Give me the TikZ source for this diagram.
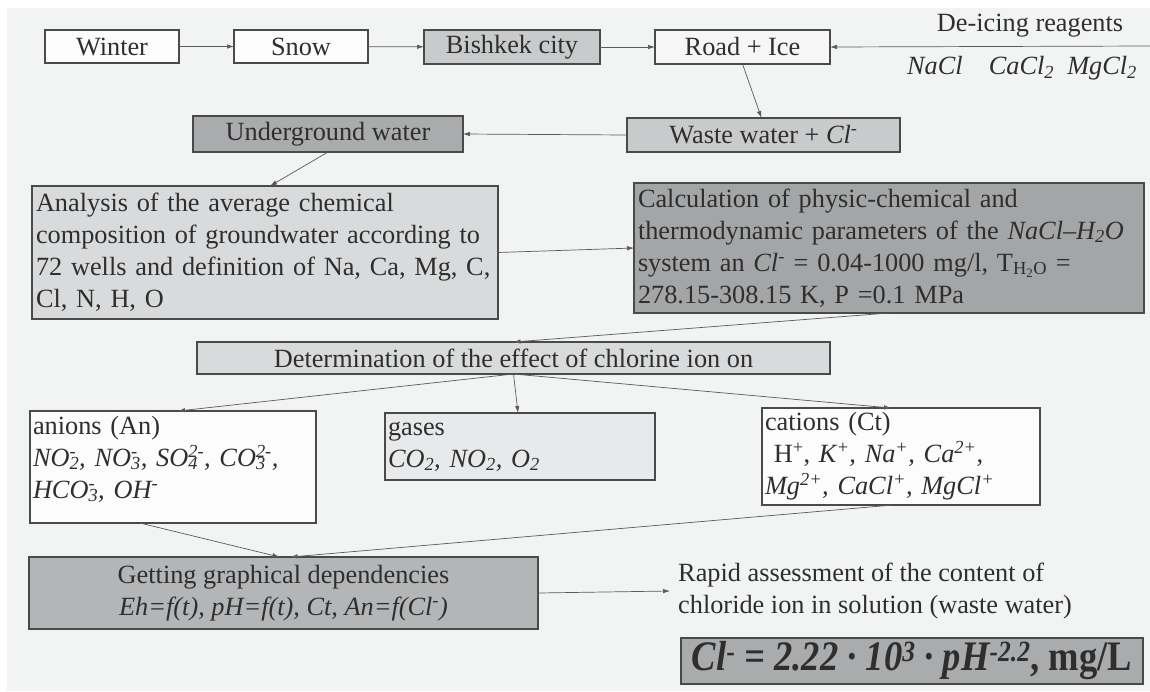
\documentclass[tikz,border=0pt]{standalone}
\usepackage{fontspec}
\setmainfont{Liberation Serif}
\usetikzlibrary{arrows.meta}
\definecolor{bgC}{HTML}{F2F3F3}
\definecolor{txtC}{HTML}{2E2E2E}
\definecolor{lineC}{HTML}{5A5A5A}
\definecolor{edgeC}{HTML}{4A4A4A}
\definecolor{whiteBox}{HTML}{FCFCFC}
\definecolor{roadC}{HTML}{F6F6F6}
\definecolor{midGray}{HTML}{C9CACB}
\definecolor{lightGray}{HTML}{D9DADB}
\definecolor{paleGray}{HTML}{E8E9EA}
\definecolor{darkGray}{HTML}{AAABAD}
\definecolor{calcGray}{HTML}{A4A5A7}
\definecolor{getGray}{HTML}{B4B5B7}
\newsavebox\mysubbox
\newsavebox\mysupbox
\newcommand{\ssp}[2]{\sbox\mysubbox{\textsubscript{#1}}\sbox\mysupbox{\textsuperscript{#2}}%
  \ifdim\wd\mysubbox>\wd\mysupbox\rlap{\usebox\mysupbox}\usebox\mysubbox\else\rlap{\usebox\mysubbox}\usebox\mysupbox\fi}
\newcommand{\sz}{\fontsize{26.3}{32}\selectfont}
\begin{document}
\begin{tikzpicture}[x=1pt,y=-1pt,
  every node/.style={text=txtC, font=\sz},
  box/.style={draw=edgeC, line width=1.1pt, inner sep=0pt, outer sep=0pt},
  lbox/.style={box, align=left},
  arr/.style={-{Latex[length=7pt,width=4.5pt]}, draw=lineC, line width=0.7pt}]
\useasboundingbox (0,0) rectangle (1150,691);
\fill[white] (0,0) rectangle (1150,691);
\fill[bgC] (7,8) rectangle (1150,691);

% top row
\node[box, fill=whiteBox, minimum width=134pt, minimum height=33pt] (winter) at (112,46.5) {Winter};
\node[box, fill=whiteBox, minimum width=134pt, minimum height=33pt] (snow) at (301,46.5) {Snow};
\node[box, fill=midGray, minimum width=176pt, minimum height=34pt] (bish) at (512,47) {Bishkek city};
\node[box, fill=roadC, minimum width=175pt, minimum height=34pt] (road) at (742.5,47) {Road + Ice};
\node (deice) at (1030,26) {De-icing reagents};
\node (reag) at (1022,68) {\textit{NaCl}\quad\textit{CaCl\textsubscript{2}}\enspace\textit{MgCl\textsubscript{2}}};
\coordinate (deend) at (1150,46);

% second row
\node[box, fill=midGray, minimum width=273pt, minimum height=34pt] (waste) at (763.5,135) {Waste water + \textit{Cl}\textsuperscript{-}};
\node[box, fill=darkGray, minimum width=270pt, minimum height=36pt] (under) at (328,134) {Underground water};

% analysis / calculation
\node[lbox, fill=lightGray, minimum width=466pt, minimum height=133pt, text width=458pt] (anal) at (265,252.5)
  {Analysis of the average chemical\\composition of groundwater according to\\72 wells and definition of Na, Ca, Mg, C,\\Cl, N, H, O};
\node[lbox, fill=calcGray, minimum width=510pt, minimum height=130pt, text width=502pt] (calc) at (889,248)
  {Calculation of physic-chemical and\\thermodynamic parameters of the \textit{NaCl–H\textsubscript{2}O}\\system an \textit{Cl}\textsuperscript{-} = 0.04-1000 mg/l, T\textsubscript{H\textsubscript{2}O} =\\278.15-308.15 K, P =0.1 MPa};

\node[box, fill=lightGray, minimum width=633pt, minimum height=32pt] (det) at (513.5,358) {Determination of the effect of chlorine ion on};

% anions gases cations
\node[lbox, fill=whiteBox, minimum width=286pt, minimum height=112pt, text width=280pt] (anions) at (173,467)
  {anions (An)\\\textit{NO\ssp{2}{-}, NO\ssp{3}{-}, SO\ssp{4}{2-}, CO\ssp{3}{2-},}\\\textit{HCO\ssp{3}{-}, OH\textsuperscript{-}}\\[-12pt]\mbox{}};
\node[lbox, fill=paleGray, minimum width=270pt, minimum height=67pt, text width=264pt] (gases) at (520,446.5)
  {gases\\\textit{CO\textsubscript{2}, NO\textsubscript{2}, O\textsubscript{2}}};
\node[lbox, fill=whiteBox, minimum width=278pt, minimum height=97pt, text width=272pt] (cations) at (901,456.5)
  {cations (Ct)\\\ H\textsuperscript{+}, \textit{K\textsuperscript{+}, Na\textsuperscript{+}, Ca\textsuperscript{2+},}\\\textit{Mg\textsuperscript{2+}, CaCl\textsuperscript{+}, MgCl\textsuperscript{+}}};

% bottom
\node[box, fill=getGray, minimum width=509pt, minimum height=72pt, align=center] (getting) at (283.5,593)
  {Getting graphical dependencies\\\textit{Eh=f(t), pH=f(t), Ct, An=f(Cl\textsuperscript{-})}};
\node[anchor=west, align=left, inner xsep=8pt, inner ysep=0pt] (rapid) at (670,591)
  {Rapid assessment of the content of\\chloride ion in solution (waste water)};
\node[box, fill=darkGray, minimum width=462pt, minimum height=46pt] (formula) at (912,661)
  {\fontsize{42}{44}\selectfont\scalebox{0.87}[1]{\textbf{\textit{Cl}\textsuperscript{-}\textit{ = 2.22 · 10\textsuperscript{3} · pH\textsuperscript{-2.2}}, mg/L}}};

% connectors
\draw[arr] (winter) -- (snow);
\draw[arr] (snow) -- (bish);
\draw[arr] (bish) -- (road);
\draw[arr] (deend) -- (road.east);
\draw[arr] (road.south) -- ([xshift=-2pt]waste.north);
\draw[arr] (waste.west) -- (under.east);
\draw[arr] (under.south) -- ([xshift=5pt]anal.north);
\draw[arr] (anal.east) -- (calc.west);
\draw[arr] (calc.south) -- (det.north);
\draw[arr] (det.south) -- ([xshift=5pt]anions.north);
\draw[arr] (det.south) -- ([xshift=-2pt]gases.north);
\draw[arr] (det.south) -- ([xshift=-10pt]cations.north);
\draw[arr] ([xshift=-33pt]anions.south) -- ([xshift=-4pt]getting.north);
\draw[arr] ([xshift=-8pt]cations.south) -- ([xshift=7pt]getting.north);
\draw[arr] (getting.east) -- (rapid.west);
\end{tikzpicture}
\end{document}
